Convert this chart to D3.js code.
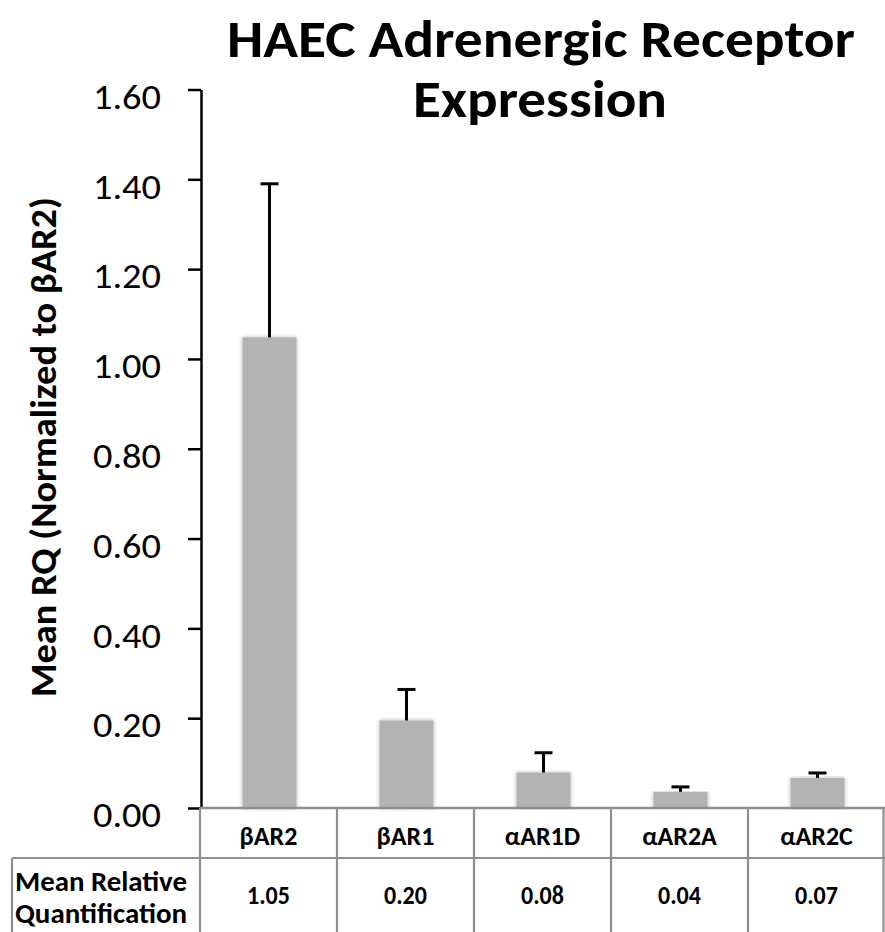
<!DOCTYPE html>
<html>
<head>
<meta charset="utf-8">
<script src="https://cdn.jsdelivr.net/npm/d3@7"></script>
<style>
  html, body { margin: 0; padding: 0; background: #fff; }
  svg { display: block; }
  text { font-family: Carlito, Lato, "Open Sans", sans-serif; }
</style>
</head>
<body>
<svg id="chart" width="885" height="932"></svg>
<script>
// ---- data ----
const categories = ["βAR2", "βAR1", "αAR1D", "αAR2A", "αAR2C"];
const meanRQ = [1.048, 0.195, 0.079, 0.036, 0.067];
const errorSE = [0.342, 0.069, 0.044, 0.011, 0.011];
const tableValues = ["1.05", "0.20", "0.08", "0.04", "0.07"];
const yTicks = [0, 0.2, 0.4, 0.6, 0.8, 1.0, 1.2, 1.4, 1.6];
const titleLines = ["HAEC Adrenergic Receptor", "Expression"];
const yTitle = "Mean RQ (Normalized to βAR2)";
const rowLabelLines = ["Mean Relative", "Quantification"];

const svg = d3.select("#chart");
const W = 885, H = 932;
const plotLeft = 200, plotRight = 885, plotTop = 89.5, plotBottom = 808;

const x = d3.scaleBand().domain(categories).range([plotLeft, plotRight]).padding(0);
const y = d3.scaleLinear().domain([0, 1.6]).range([plotBottom, plotTop]);

const defs = svg.append("defs");
const f = defs.append("filter").attr("id", "shadow").attr("x", "-20%").attr("y", "-5%").attr("width", "140%").attr("height", "110%");
f.append("feDropShadow").attr("dx", 0).attr("dy", 0).attr("stdDeviation", 2.2)
  .attr("flood-color", "#000").attr("flood-opacity", 0.3);

// ---- title ----
svg.append("text").attr("x", 541).attr("y", 57).attr("text-anchor", "middle")
  .attr("font-size", 53).attr("font-weight", "bold")
  .attr("textLength", 628).attr("lengthAdjust", "spacingAndGlyphs")
  .text(titleLines[0]);
svg.append("text").attr("x", 540).attr("y", 117).attr("text-anchor", "middle")
  .attr("font-size", 53).attr("font-weight", "bold")
  .attr("textLength", 254).attr("lengthAdjust", "spacingAndGlyphs")
  .text(titleLines[1]);

// ---- bars ----
const barW = 54;
const data = categories.map((c, i) => ({ c, v: meanRQ[i], e: errorSE[i], t: tableValues[i] }));
svg.append("g").selectAll("rect").data(data).join("rect")
  .attr("x", d => x(d.c) + x.bandwidth() / 2 - barW / 2 + 1)
  .attr("y", d => y(d.v))
  .attr("width", barW)
  .attr("height", d => y(0) - y(d.v))
  .attr("fill", "#b3b3b3")
  .attr("filter", "url(#shadow)");

// ---- error bars ----
const eg = svg.append("g").attr("stroke", "#000").attr("stroke-width", 3);
eg.selectAll("line.v").data(data).join("line").attr("class", "v")
  .attr("x1", d => x(d.c) + x.bandwidth() / 2 + 1)
  .attr("x2", d => x(d.c) + x.bandwidth() / 2 + 1)
  .attr("y1", d => y(d.v))
  .attr("y2", d => y(d.v + d.e));
eg.selectAll("line.cap").data(data).join("line").attr("class", "cap")
  .attr("x1", d => x(d.c) + x.bandwidth() / 2 + 1 - 9)
  .attr("x2", d => x(d.c) + x.bandwidth() / 2 + 1 + 9)
  .attr("y1", d => y(d.v + d.e))
  .attr("y2", d => y(d.v + d.e));

// ---- y axis ----
const yAxis = d3.axisLeft(y).tickValues(yTicks).tickFormat(d3.format(".2f"))
  .tickSize(13).tickSizeOuter(0).tickPadding(27);
const ga = svg.append("g").attr("transform", `translate(${plotLeft + 1},0)`).call(yAxis);
ga.select(".domain").attr("stroke", "#000").attr("stroke-width", 2.5);
ga.selectAll(".tick line").attr("stroke", "#000").attr("stroke-width", 2.5);
ga.selectAll(".tick text").attr("font-size", 34).attr("fill", "#000")
  .attr("dy", "0.55em")
  .attr("textLength", 68).attr("lengthAdjust", "spacingAndGlyphs")
  .style("font-family", "Carlito, Lato, sans-serif");

// ---- y title ----
svg.append("text")
  .attr("transform", `translate(56,${(197 + 697) / 2}) rotate(-90)`)
  .attr("text-anchor", "middle").attr("font-size", 37).attr("font-weight", "bold")
  .attr("textLength", 500).attr("lengthAdjust", "spacingAndGlyphs")
  .text(yTitle);

// ---- x baseline (gray) and data table ----
const grid = "#8f8f8f";
svg.append("line").attr("x1", plotLeft).attr("x2", plotRight).attr("y1", plotBottom).attr("y2", plotBottom)
  .attr("stroke", grid).attr("stroke-width", 2.5);
const tbl = svg.append("g").attr("stroke", grid).attr("stroke-width", 2.2);
const edges = categories.map(c => x(c)).concat([plotRight - 1.5]);
tbl.selectAll("line.col").data(edges).join("line").attr("class", "col")
  .attr("x1", d => d).attr("x2", d => d).attr("y1", plotBottom).attr("y2", H);
tbl.append("line").attr("x1", 12).attr("x2", plotRight).attr("y1", 858).attr("y2", 858);
tbl.append("line").attr("x1", 12).attr("x2", 12).attr("y1", 858).attr("y2", H);

// header row
svg.append("g").selectAll("text").data(data).join("text")
  .attr("x", d => x(d.c) + x.bandwidth() / 2)
  .attr("y", 845).attr("text-anchor", "middle")
  .attr("font-size", 26).attr("font-weight", "bold")
  .text(d => d.c);
// value row
svg.append("g").selectAll("text").data(data).join("text")
  .attr("x", d => x(d.c) + x.bandwidth() / 2)
  .attr("y", 904).attr("text-anchor", "middle")
  .attr("font-size", 26).attr("font-weight", "bold")
  .attr("textLength", 43).attr("lengthAdjust", "spacingAndGlyphs")
  .text(d => d.t);
// row label
svg.append("text").attr("x", 101).attr("y", 891).attr("text-anchor", "middle")
  .attr("font-size", 28).attr("font-weight", "bold")
  .attr("textLength", 172).attr("lengthAdjust", "spacingAndGlyphs")
  .text(rowLabelLines[0]);
svg.append("text").attr("x", 101).attr("y", 923).attr("text-anchor", "middle")
  .attr("font-size", 28).attr("font-weight", "bold")
  .attr("textLength", 172).attr("lengthAdjust", "spacingAndGlyphs")
  .text(rowLabelLines[1]);
</script>
</body>
</html>
